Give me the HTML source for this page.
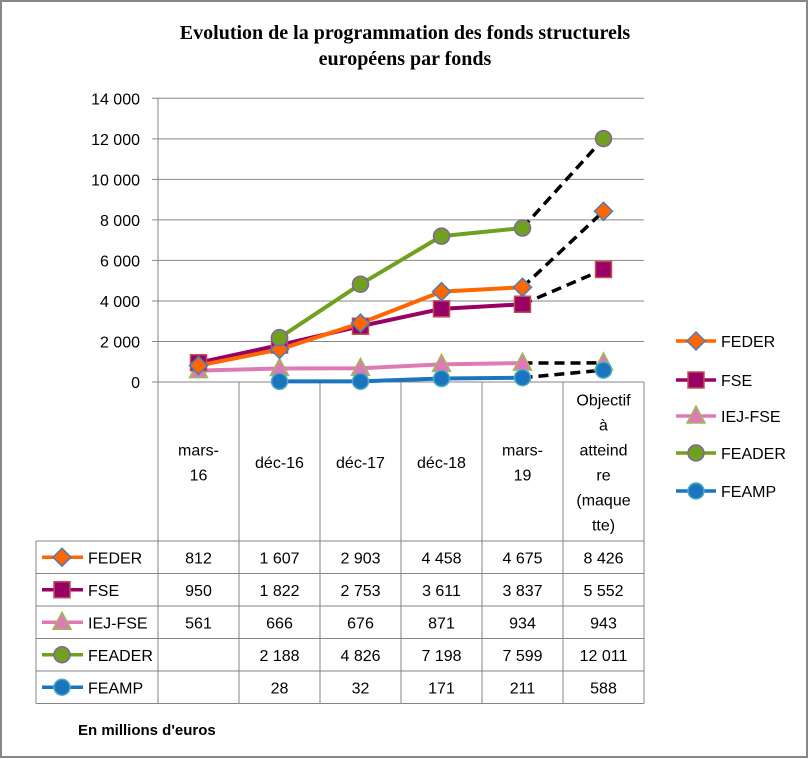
<!DOCTYPE html>
<html><head><meta charset="utf-8"><style>
body{margin:0;background:#fff}
svg{display:block;font-family:"Liberation Sans",sans-serif}
</style></head><body>
<svg id="c" width="809" height="759" viewBox="0 0 809 759">
<rect x="1" y="1" width="806" height="756" fill="#fff" stroke="#878787" stroke-width="2"/>
<text x="405" y="39" text-anchor="middle" font-family="Liberation Serif,serif" font-weight="bold" font-size="20">Evolution de la programmation des fonds structurels</text>
<text x="405" y="65" text-anchor="middle" font-family="Liberation Serif,serif" font-weight="bold" font-size="20">européens par fonds</text>
<text x="78" y="735" font-weight="bold" font-size="15">En millions d'euros</text>
<g id="g"></g>
</svg>
<script>
const categories=["mars-\n16","déc-16","déc-17","déc-18","mars-\n19","Objectif\nà\natteind\nre\n(maque\ntte)"];
const seriesNames=["FEDER","FSE","IEJ-FSE","FEADER","FEAMP"];
const feder=[812,1607,2903,4458,4675,8426];
const fse=[950,1822,2753,3611,3837,5552];
const iej=[561,666,676,871,934,943];
const feader=[null,2188,4826,7198,7599,12011];
const feamp=[null,28,32,171,211,588];
const yTicks=[0,2000,4000,6000,8000,10000,12000,14000];
const tableLabels=[["812","1 607","2 903","4 458","4 675","8 426"],["950","1 822","2 753","3 611","3 837","5 552"],["561","666","676","871","934","943"],["","2 188","4 826","7 198","7 599","12 011"],["","28","32","171","211","588"]];
const seriesData=[feder,fse,iej,feader,feamp];
const colors=["#ff6600","#990066","#e07ab5","#70a020","#1b75bc"];
const NS="http://www.w3.org/2000/svg",g=document.getElementById('g');
function mk(t,a,p){const e=document.createElementNS(NS,t);for(const k in a)e.setAttribute(k,a[k]);(p||g).appendChild(e);return e;}
const X0=158,CW=81,Y0=382,YT=98.3;
const xs=i=>X0+CW*(i+0.5);
const ys=v=>Y0-(v/14000)*(Y0-YT);
function fmt(n){return n.toString().replace(/\B(?=(\d{3})+(?!\d))/g,' ');}
yTicks.forEach(t=>{
 const l=mk('line',{x1:152,x2:644,y1:ys(t),y2:ys(t),stroke:'#868686','stroke-width':1});
 
 const tx=mk('text',{x:140,y:ys(t)+6,'text-anchor':'end','font-size':16});tx.textContent=fmt(t);
 
});
// table grid
const RT=[541,573.5,606,638.5,671,703.5];
for(let i=0;i<=6;i++){const l=mk('line',{x1:X0+CW*i,x2:X0+CW*i,y1:i==0?98:382,y2:703.5,stroke:'#868686'});}
mk('line',{x1:36,x2:36,y1:541,y2:703.5,stroke:'#868686'});
RT.forEach(y=>{const l=mk('line',{x1:36,x2:644,y1:y,y2:y,stroke:'#868686'});});
categories.forEach((c,i)=>{
 const lines=c.split('\n');const lh=25;const mid=462;const y0=mid-(lines.length-1)*lh/2+6;
 lines.forEach((s,j)=>{const t=mk('text',{x:xs(i),y:y0+j*lh,'text-anchor':'middle','font-size':16});t.textContent=s;
 });
});
function marker(k,x,y,parent){
 const c=colors[k];let e;
 if(k==0)e=mk('polygon',{points:`${x},${y-9} ${x+9},${y} ${x},${y+9} ${x-9},${y}`,fill:c,stroke:'#4a7ebb','stroke-width':1.5},parent);
 else if(k==1)e=mk('rect',{x:x-8,y:y-8,width:16,height:16,fill:c,stroke:'#c0504d','stroke-width':1.5},parent);
 else if(k==2)e=mk('polygon',{points:`${x},${y-10} ${x+9},${y+7} ${x-9},${y+7}`,fill:c,stroke:'#9bbb59','stroke-width':1.5},parent);
 else if(k==3)e=mk('circle',{cx:x,cy:y,r:8,fill:c,stroke:'#8064a2','stroke-width':1.5},parent);
 else e=mk('circle',{cx:x,cy:y,r:8,fill:c,stroke:'#4bacc6','stroke-width':1.5},parent);
 return e;
}
// series lines
const order=[2,4,1,0,3];
order.forEach(k=>{
 const d=seriesData[k];const pts=[];
 for(let i=0;i<5;i++)if(d[i]!=null)pts.push(xs(i)+','+ys(d[i]));
 const l=mk('polyline',{points:pts.join(' '),fill:'none',stroke:colors[k],'stroke-width':4,'stroke-linejoin':'round'});
 
 const dl=mk('line',{x1:xs(4),y1:ys(d[4]),x2:xs(5),y2:ys(d[5]),stroke:'#000','stroke-width':3.5,'stroke-dasharray':'10,6'});
 
});
order.forEach(k=>{const d=seriesData[k];d.forEach((v,i)=>{if(v==null)return;const m=marker(k,xs(i),ys(v));
 });});
// table rows
seriesNames.forEach((n,k)=>{
 const yc=(RT[k]+RT[k+1])/2;
 const l=mk('line',{x1:42,x2:83,y1:yc,y2:yc,stroke:colors[k],'stroke-width':3.5});
 
 const m=marker(k,62,yc);
 const t=mk('text',{x:88,y:yc+6,'font-size':16});t.textContent=n;
 
 tableLabels[k].forEach((s,i)=>{const c=mk('text',{x:xs(i),y:yc+6,'text-anchor':'middle','font-size':16});c.textContent=s;
 });
 // legend
 const ly=[341,380,416,453,491][k];
 const ll=mk('line',{x1:676,x2:716,y1:ly,y2:ly,stroke:colors[k],'stroke-width':3.5});
 
 const lm=marker(k,696,ly);
 const lt=mk('text',{x:721,y:ly+6,'font-size':16});lt.textContent=n;
 
});
</script>
</body></html>
